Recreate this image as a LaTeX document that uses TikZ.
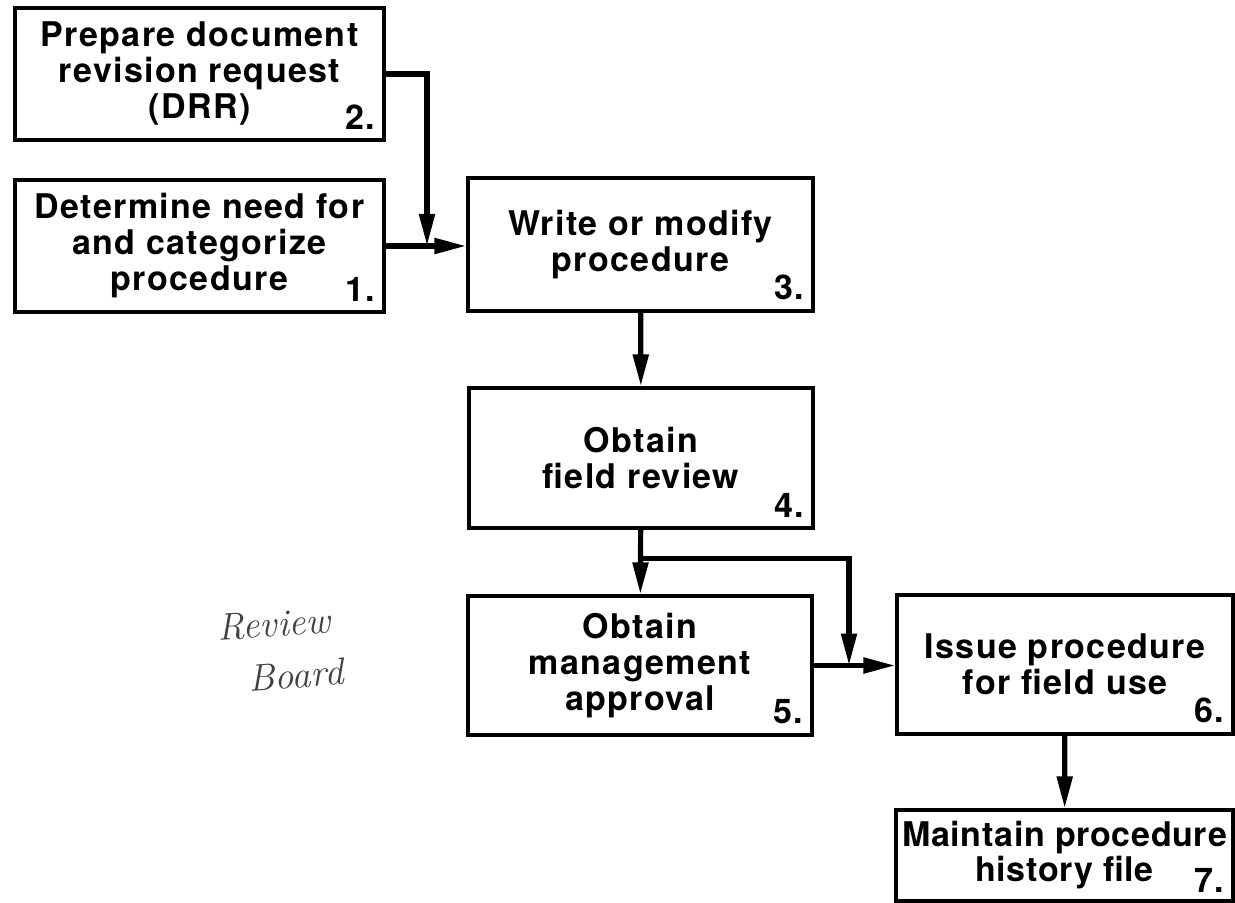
\documentclass[tikz,border=0pt]{standalone}
\usepackage{fontspec}
\usetikzlibrary{arrows.meta,calc}
\newfontfamily\boxfont{TeX Gyre Heros}[LetterSpace=4]
\tikzset{>={Triangle[length=16pt,width=7.5pt]}}

\begin{document}
\begin{tikzpicture}[x=0.5pt,y=-0.5pt,
    box/.style={draw,line width=1.6pt,rectangle,align=center,inner sep=0pt,
      font=\boxfont\bfseries\fontsize{17}{18}\selectfont},
    num/.style={anchor=south east,inner sep=0pt,xshift=-5pt,yshift=6pt,
      font=\boxfont\bfseries\fontsize{17}{18}\selectfont},
    flow/.style={line width=2.6pt,->},
    hand/.style={font=\itshape\fontsize{19}{19}\selectfont,text=black!75}]
  \useasboundingbox (0,0) rectangle (1235,903);

  \node[box,minimum width=184.5pt,minimum height=66pt,label={[num]south east:2.}] (s2) at (199.5,74) {Prepare document\\revision request\\(DRR)};
  \node[box,minimum width=184.5pt,minimum height=66pt,label={[num]south east:1.}] (s1) at (199.5,246) {Determine need for\\and categorize\\procedure};
  \node[box,minimum width=172.5pt,minimum height=66.5pt,label={[num]south east:3.}] (s3) at (640.5,244.5) {Write or modify\\procedure};
  \node[box,minimum width=172pt,minimum height=70pt,label={[num]south east:4.}] (s4) at (641,458) {Obtain\\field review};
  \node[box,minimum width=172pt,minimum height=69.5pt,label={[num]south east:5.}] (s5) at (640,665.5) {Obtain\\management\\approval};
  \node[box,minimum width=168pt,minimum height=69.5pt,label={[num]south east:6.}] (s6) at (1065,664.5) {Issue procedure\\for field use};
  \node[box,minimum width=168.5pt,minimum height=45.5pt,label={[num,yshift=-1pt]south east:7.},
    font=\boxfont\bfseries\fontsize{17}{17.5}\selectfont\addfontfeature{LetterSpace=2}] (s7) at (1064.5,855.5) {Maintain procedure\\history file};

  \node[hand,rotate=4] (rv) at (274,624) {Review};
  \node[hand,rotate=4] (bd) at (296,675) {Board};

  \coordinate (j1) at (427,246);
  \coordinate (k) at ($(s4.south)!0.45!(s5.north)$);
  \coordinate (j2) at (849,665.5);

  \draw[flow] (s2.east) -| (j1);
  \draw[flow] (s1.east) -- (s1.east -| s3.west);
  \draw[flow] (s3) -- (s4);
  \draw[flow] (s4) -- (s5);
  \draw[flow] (k) -| (j2);
  \draw[flow] (s5.east) -- (s5.east -| s6.west);
  \draw[flow] (s6) -- (s7);
\end{tikzpicture}
\end{document}
